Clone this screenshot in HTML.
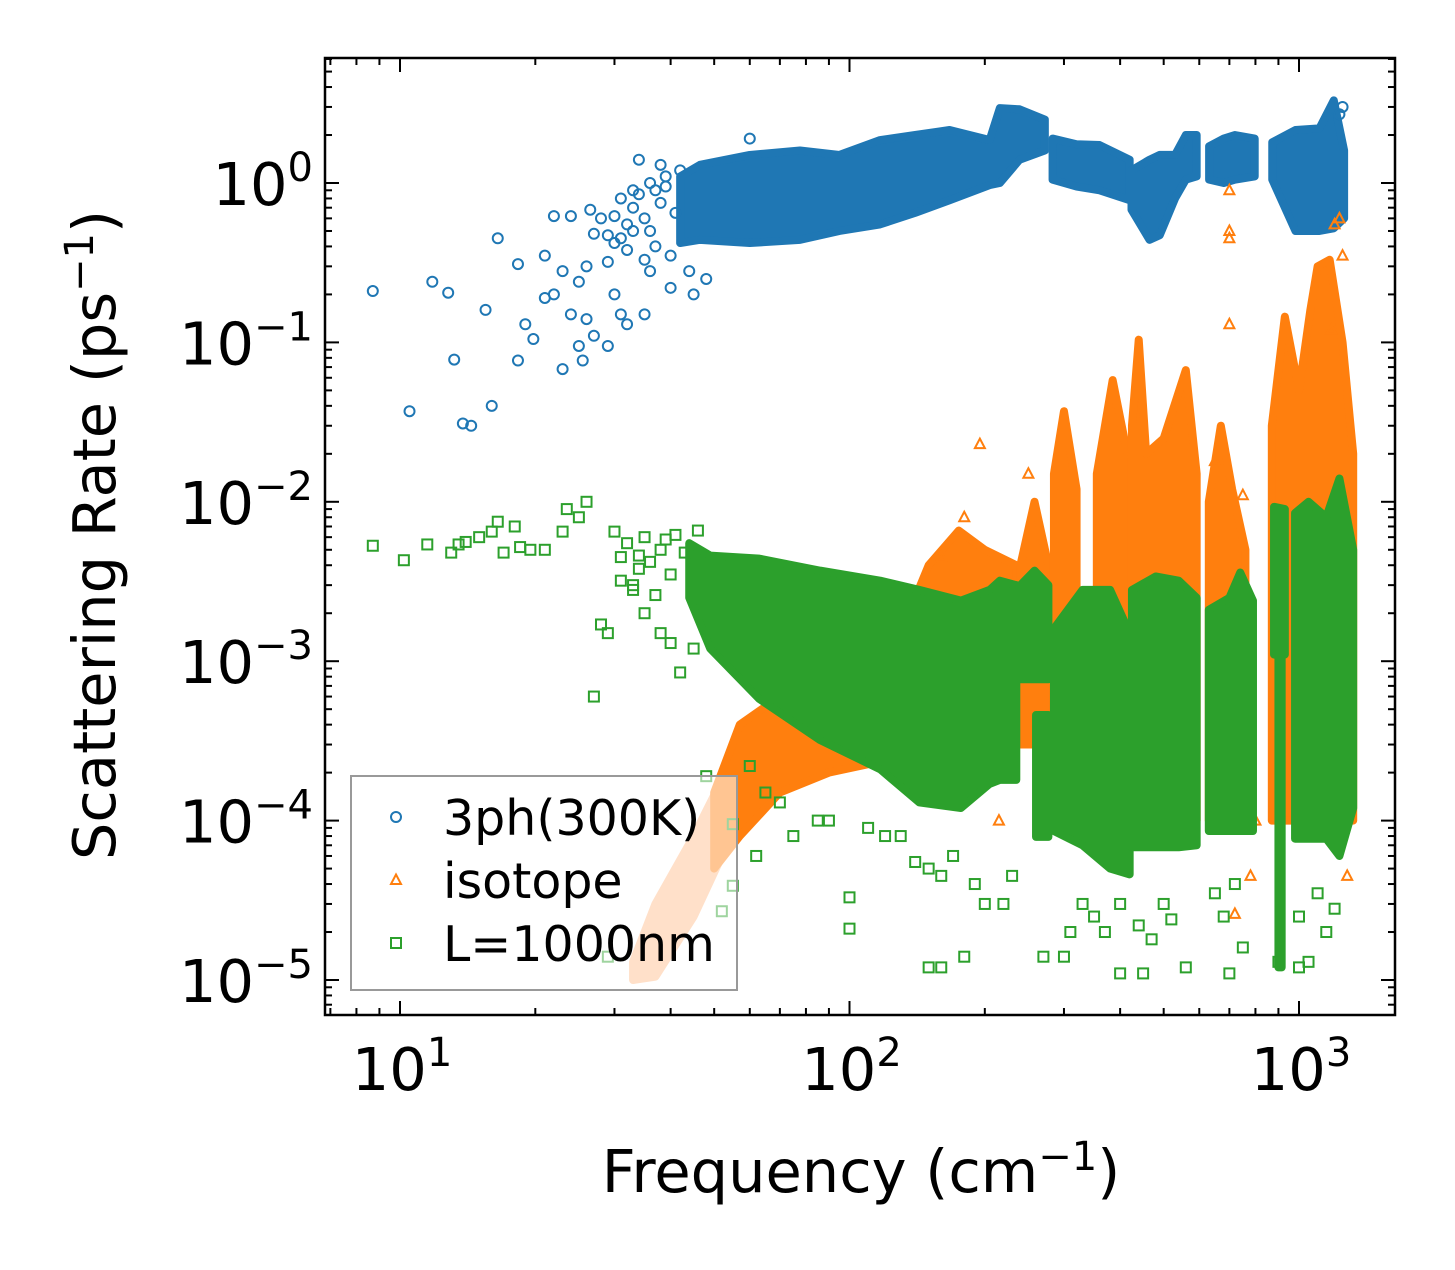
<!DOCTYPE html>
<html><head><meta charset="utf-8"><style>
body{margin:0;background:#fff;}
svg text{font-family:"DejaVu Sans","Liberation Sans",sans-serif;}
</style></head><body>
<svg id="chart" width="1455" height="1265" viewBox="0 0 1455 1265" xmlns="http://www.w3.org/2000/svg">
<rect width="1455" height="1265" fill="#fff"/>
<g id="marks"></g>
<g id="axes"></g>
<g id="legend"></g>
</svg>
<script>
// ---- data ----
const xTickExps = [1, 2, 3];
const yTickExps = [0, -1, -2, -3, -4, -5];
// dense clusters: lists of [freq, lowRate, highRate] envelope samples
const blueClusters = [
  [[42,0.42,1.1],[46.5,0.44,1.3],[60,0.42,1.5],[77.6,0.44,1.6],[95,0.5,1.5],[117,0.55,1.86],[140,0.65,2.0],[167,0.78,2.15],[205,0.97,1.86],[216,1.0,2.95],[239,1.4,2.9],[272,1.6,2.5]],
  [[283,1.05,1.9],[320,0.95,1.75],[360,0.9,1.73],[420,0.78,1.4]],
  [[424,0.68,1.2],[465,0.44,1.4],[490,0.47,1.5],[530,0.8,1.5],[560,1.05,2.0],[592,1.1,2.0]],
  [[631,1.05,1.7],[680,1.0,1.9],[720,1.05,2.0],[797,1.1,1.9]],
  [[872,1.05,1.8],[982,0.5,2.15],[1110,0.5,2.2],[1195,0.52,3.3],[1260,0.6,1.6]]
];
const orangeLowCluster = [[33,1.0e-5,1.3e-5],[37,1.05e-5,3.0e-5],[45,2.5e-5,8.0e-5],[52,6.0e-5,1.8e-4],[55,1.0e-4,2.0e-4]];
const orangeClusters = [
  [[50,5e-5,1.5e-4],[57,8e-5,4e-4],[70,1.5e-4,6e-4],[90,2e-4,8e-4],[130,2.5e-4,1.5e-3],[150,3e-4,4e-3],[175,3e-4,6.6e-3],[200,3e-4,5e-3],[235,3e-4,4e-3]],
  [[240,3e-4,4e-3],[258,3e-4,1.0e-2],[277,3e-4,4e-3]],
  [[285,2e-4,1.5e-2],[300,2e-4,3.7e-2],[320,2e-4,1.2e-2]],
  [[355,1e-4,1.5e-2],[385,1e-4,5.8e-2],[415,1e-4,2.0e-2]],
  [[425,1e-4,3e-2],[440,1e-4,1.04e-1],[457,1e-4,2e-2],[500,1e-4,2.5e-2],[560,1e-4,6.7e-2],[592,1e-4,1.5e-2]],
  [[630,1e-4,1.0e-2],[670,1e-4,3.0e-2],[710,1e-4,1.2e-2],[760,1e-4,5e-3]],
  [[870,1e-4,3e-2],[930,1e-4,1.45e-1],[1000,1e-4,5e-2],[1060,1e-4,1.6e-1],[1100,1e-4,3.0e-1],[1170,1e-4,3.3e-1],[1250,1e-4,1.0e-1],[1320,1e-4,2e-2]]
];
const greenClusters = [
  [[44,2.5e-3,5.5e-3],[49,1.2e-3,4.6e-3],[63,5.8e-4,4.4e-3],[86,3.2e-4,3.7e-3],[117,2.1e-4,3.2e-3],[143,1.3e-4,2.8e-3],[177,1.2e-4,2.4e-3],[205,1.7e-4,2.8e-3],[216,1.8e-4,3.2e-3],[235,1.8e-4,3.0e-3]],
  [[240,7.7e-4,3.0e-3],[258,7.7e-4,3.7e-3],[277,7.7e-4,3.0e-3]],
  [[260,7.9e-5,4.6e-4],[277,7.9e-5,4.6e-4]],
  [[285,8.6e-5,1.6e-3],[330,7e-5,2.8e-3],[380,5e-5,2.8e-3],[420,4.6e-5,1.5e-3]],
  [[425,6.8e-5,2.8e-3],[480,6.8e-5,3.4e-3],[540,6.8e-5,3.2e-3],[592,7e-5,2.5e-3]],
  [[630,8.6e-5,2.1e-3],[700,8.6e-5,2.5e-3],[740,8.6e-5,3.6e-3],[790,8.6e-5,2.4e-3]],
  [[880,1.1e-3,9.3e-3],[930,1.1e-3,9.0e-3]],
  [[900,1.2e-5,1.1e-3],[915,1.2e-5,1.1e-3]],
  [[980,7.7e-5,8.5e-3],[1050,7.7e-5,1.0e-2],[1150,7.7e-5,8.0e-3],[1230,6e-5,1.4e-2],[1320,1.2e-4,5e-3]]
];
const blueFreq = [8.7,10.5,11.8,12.8,13.2,13.8,14.4,15.5,16,16.5,18.3,18.3,19,19.8,21,21,22,22,23,23,24,24,25,25,25.5,26,26,26.5,27,27,28,29,29,30,31,31,32,33,35,36,40,45,48,34,38,60,1250,1230,30,29,31,33,36,40,42,44,35,37,32,33,34,36,38,39,41,30,32,35,37,39];
const blueRate = [0.21,0.037,0.24,0.205,0.078,0.031,0.03,0.16,0.04,0.45,0.31,0.077,0.13,0.105,0.35,0.19,0.62,0.2,0.068,0.28,0.15,0.62,0.24,0.095,0.077,0.3,0.14,0.68,0.48,0.11,0.6,0.47,0.095,0.2,0.15,0.8,0.13,0.5,0.15,0.28,0.22,0.2,0.25,1.4,1.3,1.9,3.0,2.7,0.62,0.32,0.45,0.9,1.0,0.35,1.2,0.28,0.6,0.4,0.55,0.7,0.85,0.5,0.75,0.95,0.65,0.42,0.38,0.33,0.9,1.1];
const orangeFreq = [195,250,180,160,700,700,700,700,1200,1250,800,1280,650,750,270,215,1230,1180,720,780];
const orangeRate = [2.3e-2,1.5e-2,8e-3,4.5e-3,0.9,0.5,0.45,0.13,0.55,0.35,1e-4,4.5e-5,1.8e-2,1.1e-2,1e-4,1e-4,0.6,0.12,2.6e-5,4.5e-5];
const greenFreq = [8.7,10.2,11.5,13,13.5,14,15,16,16.5,17,18,18.5,19.5,21,23,23.5,25,26,27,28,29,29,33,35,38,40,42,45,46,52,55,62,75,85,100,100,120,140,160,150,160,180,200,270,300,400,450,560,700,1000,1050,900,48,55,60,65,70,90,110,130,150,170,190,220,230,310,330,350,370,400,440,470,500,520,650,680,720,750,1000,1100,1150,1200,30,31,32,34,35,36,38,40,41,43,33,37,39,31,34];
const greenRate = [5.3e-3,4.3e-3,5.4e-3,4.8e-3,5.4e-3,5.6e-3,6e-3,6.5e-3,7.5e-3,4.8e-3,7e-3,5.2e-3,5e-3,5e-3,6.5e-3,9e-3,8e-3,1e-2,0.6e-3,1.7e-3,1.5e-3,1.4e-5,3e-3,2e-3,1.5e-3,1.3e-3,0.85e-3,1.2e-3,6.6e-3,2.7e-5,3.9e-5,6e-5,8e-5,1e-4,3.3e-5,2.1e-5,8e-5,5.5e-5,4.5e-5,1.2e-5,1.2e-5,1.4e-5,3e-5,1.4e-5,1.4e-5,1.1e-5,1.1e-5,1.2e-5,1.1e-5,1.2e-5,1.3e-5,1.3e-5,1.9e-4,9.5e-5,2.2e-4,1.5e-4,1.3e-4,1.0e-4,9e-5,8e-5,5e-5,6e-5,4e-5,3e-5,4.5e-5,2e-5,3e-5,2.5e-5,2e-5,3e-5,2.2e-5,1.8e-5,3e-5,2.4e-5,3.5e-5,2.5e-5,4e-5,1.6e-5,2.5e-5,3.5e-5,2e-5,2.8e-5,6.5e-3,4.5e-3,5.5e-3,3.8e-3,6e-3,4.2e-3,5e-3,3.5e-3,6.2e-3,4.8e-3,2.8e-3,2.6e-3,5.8e-3,3.2e-3,4.6e-3];

// ---- axes ----
const L=325,R=1395,T=58,B=1015;
const X=f=>400+(Math.log10(f)-1)*449.5;
const Y=v=>183-Math.log10(v)*159.4;
const NS='http://www.w3.org/2000/svg';
function mk(tag,attrs,parent){const e=document.createElementNS(NS,tag);for(const k in attrs)e.setAttribute(k,attrs[k]);parent.appendChild(e);return e;}
const marks=document.getElementById('marks'),axes=document.getElementById('axes'),leg=document.getElementById('legend');
const C={b:'#1f77b4',o:'#ff7f0e',g:'#2ca02c',lo:'#ffbb88'};

function cluster(pts,col,name){
  const top=pts.map(p=>`${X(p[0])},${Y(p[2])}`);
  const bot=pts.slice().reverse().map(p=>`${X(p[0])},${Y(p[1])}`);
  const p=mk('polygon',{points:top.concat(bot).join(' '),fill:col,stroke:col,'stroke-width':8,'stroke-linejoin':'round'},marks);
  
  
}
function marker(kind,f,v,col,name){
  const x=X(f),y=Y(v);let e;
  if(kind==='c')e=mk('circle',{cx:x,cy:y,r:5,fill:'none',stroke:col,'stroke-width':2},marks);
  else if(kind==='t')e=mk('polygon',{points:`${x},${y-5.5} ${x+5},${y+4} ${x-5},${y+4}`,fill:'none',stroke:col,'stroke-width':2},marks);
  else e=mk('rect',{x:x-5,y:y-5,width:10,height:10,fill:'none',stroke:col,'stroke-width':2},marks);
  
  
}
blueClusters.forEach(c=>cluster(c,C.b,'3ph-dense-cluster'));
blueFreq.forEach((f,i)=>marker('c',f,blueRate[i],C.b,'3ph-point'));
cluster(orangeLowCluster,C.lo,'isotope-low-frequency-cluster');
orangeClusters.forEach(c=>cluster(c,C.o,'isotope-dense-cluster'));
orangeFreq.forEach((f,i)=>marker('t',f,orangeRate[i],C.o,'isotope-point'));
greenClusters.forEach(c=>cluster(c,C.g,'boundary-dense-cluster'));
greenFreq.forEach((f,i)=>marker('s',f,greenRate[i],C.g,'boundary-point'));

// frame
const fr=mk('rect',{x:L,y:T,width:R-L,height:B-T,fill:'none',stroke:'#000','stroke-width':2.5},axes);


for(let d=0;d<=3;d++){for(let m=1;m<10;m++){const f=m*Math.pow(10,d);const x=X(f);if(x<L||x>R)continue;const len=m===1?14:7;
  mk('line',{x1:x,y1:B,x2:x,y2:B-len,stroke:'#000','stroke-width':2},axes);
  mk('line',{x1:x,y1:T,x2:x,y2:T+len,stroke:'#000','stroke-width':2},axes);}}
xTickExps.forEach(e=>{const t=mk('text',{x:X(Math.pow(10,e))+2,y:1090,'font-size':59,'text-anchor':'middle'},axes);
  t.innerHTML=`10<tspan dy="-24" font-size="40">${e}</tspan>`;
  
  });
for(let d=-6;d<=1;d++){for(let m=1;m<10;m++){const v=m*Math.pow(10,d);const y=Y(v);if(y<T||y>B)continue;const len=m===1?14:7;
  mk('line',{x1:L,y1:y,x2:L+len,y2:y,stroke:'#000','stroke-width':2},axes);
  mk('line',{x1:R,y1:y,x2:R-len,y2:y,stroke:'#000','stroke-width':2},axes);}}
yTickExps.forEach(e=>{const t=mk('text',{x:313,y:Y(Math.pow(10,e))+22,'font-size':59,'text-anchor':'end'},axes);
  t.innerHTML=`10<tspan dy="-24" font-size="40">${e===0?'0':'\u2212'+(-e)}</tspan>`;
  
  });
const xt=mk('text',{x:861,y:1192,'font-size':59,'text-anchor':'middle'},axes);
xt.innerHTML='Frequency (cm<tspan dy="-22" font-size="40">\u22121</tspan><tspan dy="22">)</tspan>';


const yt=mk('text',{x:0,y:0,'font-size':59,'text-anchor':'middle',transform:'translate(115,535) rotate(-90)'},axes);
yt.innerHTML='Scattering Rate (ps<tspan dy="-22" font-size="40">\u22121</tspan><tspan dy="22">)</tspan>';



// legend
const lb=mk('rect',{x:351,y:776,width:386,height:214,fill:'rgba(255,255,255,0.55)',stroke:'#999','stroke-width':2},leg);


const entries=[['c',C.b,'3ph(300K)',817],['t',C.o,'isotope',880],['s',C.g,'L=1000nm',943]];
entries.forEach(en=>{
  const g=mk('g',{},leg);
  
  
  const x=396,y=en[3];
  if(en[0]==='c')mk('circle',{cx:x,cy:y,r:5,fill:'none',stroke:en[1],'stroke-width':2},g);
  else if(en[0]==='t')mk('polygon',{points:`${x},${y-5.5} ${x+5},${y+4} ${x-5},${y+4}`,fill:'none',stroke:en[1],'stroke-width':2},g);
  else mk('rect',{x:x-5,y:y-5,width:10,height:10,fill:'none',stroke:en[1],'stroke-width':2},g);
  const t=mk('text',{x:443,y:y+18,'font-size':49},g);t.textContent=en[2];
});
</script>
</body></html>
